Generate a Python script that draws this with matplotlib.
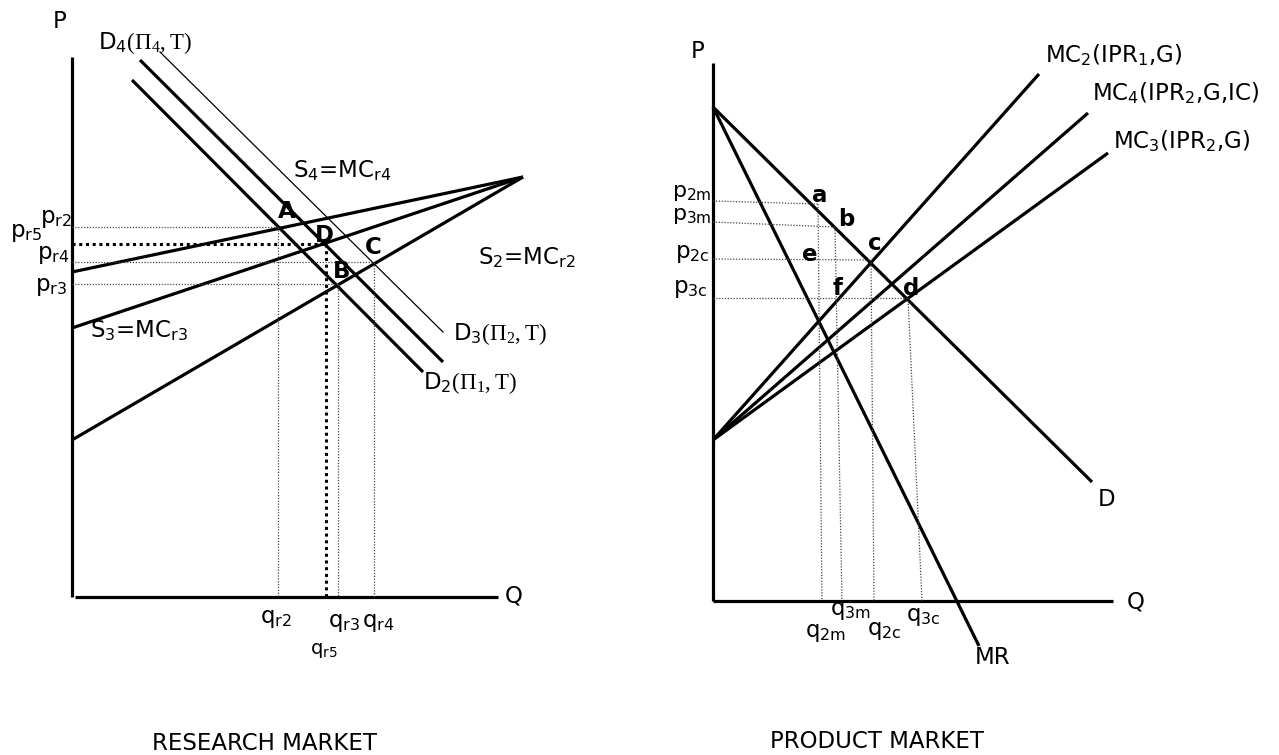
import matplotlib
matplotlib.use("Agg")
import matplotlib.pyplot as plt

plt.rcParams['font.family'] = ['DejaVu Sans']
plt.rcParams['mathtext.fontset'] = 'custom'
plt.rcParams['mathtext.rm'] = 'Liberation Serif'
plt.rcParams['mathtext.sf'] = 'DejaVu Sans'
plt.rcParams['mathtext.it'] = 'DejaVu Sans:italic'
plt.rcParams['mathtext.bf'] = 'DejaVu Sans:bold'
plt.rcParams['mathtext.default'] = 'regular'

W, H = 1279, 755
FS = 16.5

# ---------------- RESEARCH MARKET (left panel, units from origin) ----------
L_origin = (72, 597)
L_p_axis_top = 540
L_q_axis_end = 426
# demand curves: (Q0, P0, Q1, P1)
L_demand_thin = (88, 545, 371, 265)
L_demand_D3 = (68, 537, 371, 235)
L_demand_D2 = (60, 517, 351, 225)
# supply curves all meet at apex
L_supply_apex = (451, 420)
L_supply_intercepts = [325, 269, 157]
# equilibrium guide lines
L_p_levels = [370, 313, 335]          # p_r2, p_r3, p_r4
L_q_levels = [206, 266, 302]          # q_r2, q_r3, q_r4
L_p5, L_q5 = 353, 254                  # p_r5 / q_r5 (heavy dotted)

# ---------------- PRODUCT MARKET (right panel) ----------------------------
R_origin = (713, 601)
R_p_axis_top = 538
R_q_axis_end = 400
R_choke = 494                          # demand/MR intercept on P axis
R_D_end = (379, 119)
R_MR_end = (266, -45)
R_MC_intercept = 161
R_MC_ends = [(326, 527), (375, 488), (395, 448)]   # MC2, MC4, MC3
# dotted guides: price level at axis, price level at curve, q top, q bottom
R_p_axis = [400, 379, 342, 303]       # p2m, p3m, p2c, p3c
R_p_curve = [397, 374, 341, 303]
R_q_top = [105, 122, 158, 195]        # q2m, q3m, q2c, q3c
R_q_bot = [109, 129, 161, 209]

fig = plt.figure(figsize=(W / 100, H / 100), dpi=100)


def make_ax(origin):
    ax = fig.add_axes([0, 0, 1, 1])
    ox, oy = origin
    ax.set_xlim(-ox, W - ox)
    ax.set_ylim(oy - H, oy)
    ax.axis('off')
    ax.patch.set_alpha(0)
    return ax


axL = make_ax(L_origin)
axR = make_ax(R_origin)

thick = dict(color='black', lw=2.3, solid_capstyle='butt')
dot = dict(color='#444444', lw=0.9, linestyle=(0, (1, 1.3)))
hdot = dict(color='black', lw=2.2, linestyle=(0, (1, 1.2)))

# Left axes
axL.plot([0, 0], [0, L_p_axis_top], **thick)
axL.plot([3, L_q_axis_end], [0, 0], **thick)
# Demand curves
q0, p0, q1, p1 = L_demand_thin
axL.plot([q0, q1], [p0, p1], color='black', lw=0.9)
for d in (L_demand_D3, L_demand_D2):
    axL.plot([d[0], d[2]], [d[1], d[3]], **thick)
# Supply curves
for pi in L_supply_intercepts:
    axL.plot([0, L_supply_apex[0]], [pi, L_supply_apex[1]], **thick)
# Guides
for p, q in zip(L_p_levels, L_q_levels):
    axL.plot([0, q], [p, p], **dot)
    axL.plot([q, q], [p, 0], **dot)
axL.plot([0, L_q5], [L_p5, L_p5], **hdot)
axL.plot([L_q5, L_q5], [L_p5, 0], **hdot)

# Right axes
axR.plot([0, 0], [0, R_p_axis_top], **thick)
axR.plot([0, R_q_axis_end], [0, 0], **thick)
axR.plot([0, R_D_end[0]], [R_choke, R_D_end[1]], **thick)
axR.plot([0, R_MR_end[0]], [R_choke, R_MR_end[1]], **thick)
for qe, pe in R_MC_ends:
    axR.plot([0, qe], [R_MC_intercept, pe], **thick)
for pa, pc, qt, qb in zip(R_p_axis, R_p_curve, R_q_top, R_q_bot):
    axR.plot([0, qt], [pa, pc], **dot)
    axR.plot([qt, qb], [pc, 0], **dot)


def txt(x, y, s, size=FS, ha='left', va='center', **kw):
    fig.text(x / W, 1 - y / H, s, fontsize=size, ha=ha, va=va, **kw)


# Left labels
txt(60, 22, 'P', ha='center')
txt(505, 596, 'Q')
txt(98, 43, r'D$_4$$\mathrm{(\Pi_4,T)}$')
txt(293, 171, 'S$_4$=MC$_{r4}$')
txt(90, 331, 'S$_3$=MC$_{r3}$')
txt(478, 258, 'S$_2$=MC$_{r2}$')
txt(453, 334, r'D$_3$$\mathrm{(\Pi_2,T)}$')
txt(423, 383, r'D$_2$$\mathrm{(\Pi_1,T)}$')
txt(278, 212, 'A', weight='bold')
txt(315, 236, 'D', weight='bold')
txt(365, 247, 'C', weight='bold')
txt(333, 271, 'B', weight='bold')
txt(40, 219, 'p$_{r2}$')
txt(10, 233, 'p$_{r5}$')
txt(37, 254, 'p$_{r4}$')
txt(35, 287, 'p$_{r3}$')
txt(260, 619, 'q$_{r2}$')
txt(328, 622, 'q$_{r3}$')
txt(362, 622, 'q$_{r4}$')
txt(310, 651, 'q$_{r5}$', size=14)
txt(265, 743, 'RESEARCH MARKET', ha='center')

# Right labels
txt(698, 52, 'P', ha='center')
txt(1127, 602, 'Q')
txt(1045, 55, 'MC$_2$(IPR$_1$,G)')
txt(1092, 93, 'MC$_4$(IPR$_2$,G,IC)')
txt(1113, 141, 'MC$_3$(IPR$_2$,G)')
txt(1098, 499, 'D')
txt(975, 658, 'MR')
txt(812, 195, 'a', weight='bold')
txt(838, 219, 'b', weight='bold')
txt(868, 243, 'c', weight='bold')
txt(802, 255, 'e', weight='bold')
txt(833, 288, 'f', weight='bold')
txt(903, 288, 'd', weight='bold')
txt(672, 193, 'p$_{2m}$', size=16)
txt(672, 216, 'p$_{3m}$', size=16)
txt(675, 253, 'p$_{2c}$')
txt(673, 288, 'p$_{3c}$')
txt(805, 632, 'q$_{2m}$')
txt(830, 611, 'q$_{3m}$')
txt(867, 631, 'q$_{2c}$')
txt(906, 617, 'q$_{3c}$')
txt(877, 741, 'PRODUCT MARKET', ha='center')

fig.savefig('out.png', dpi=100)
